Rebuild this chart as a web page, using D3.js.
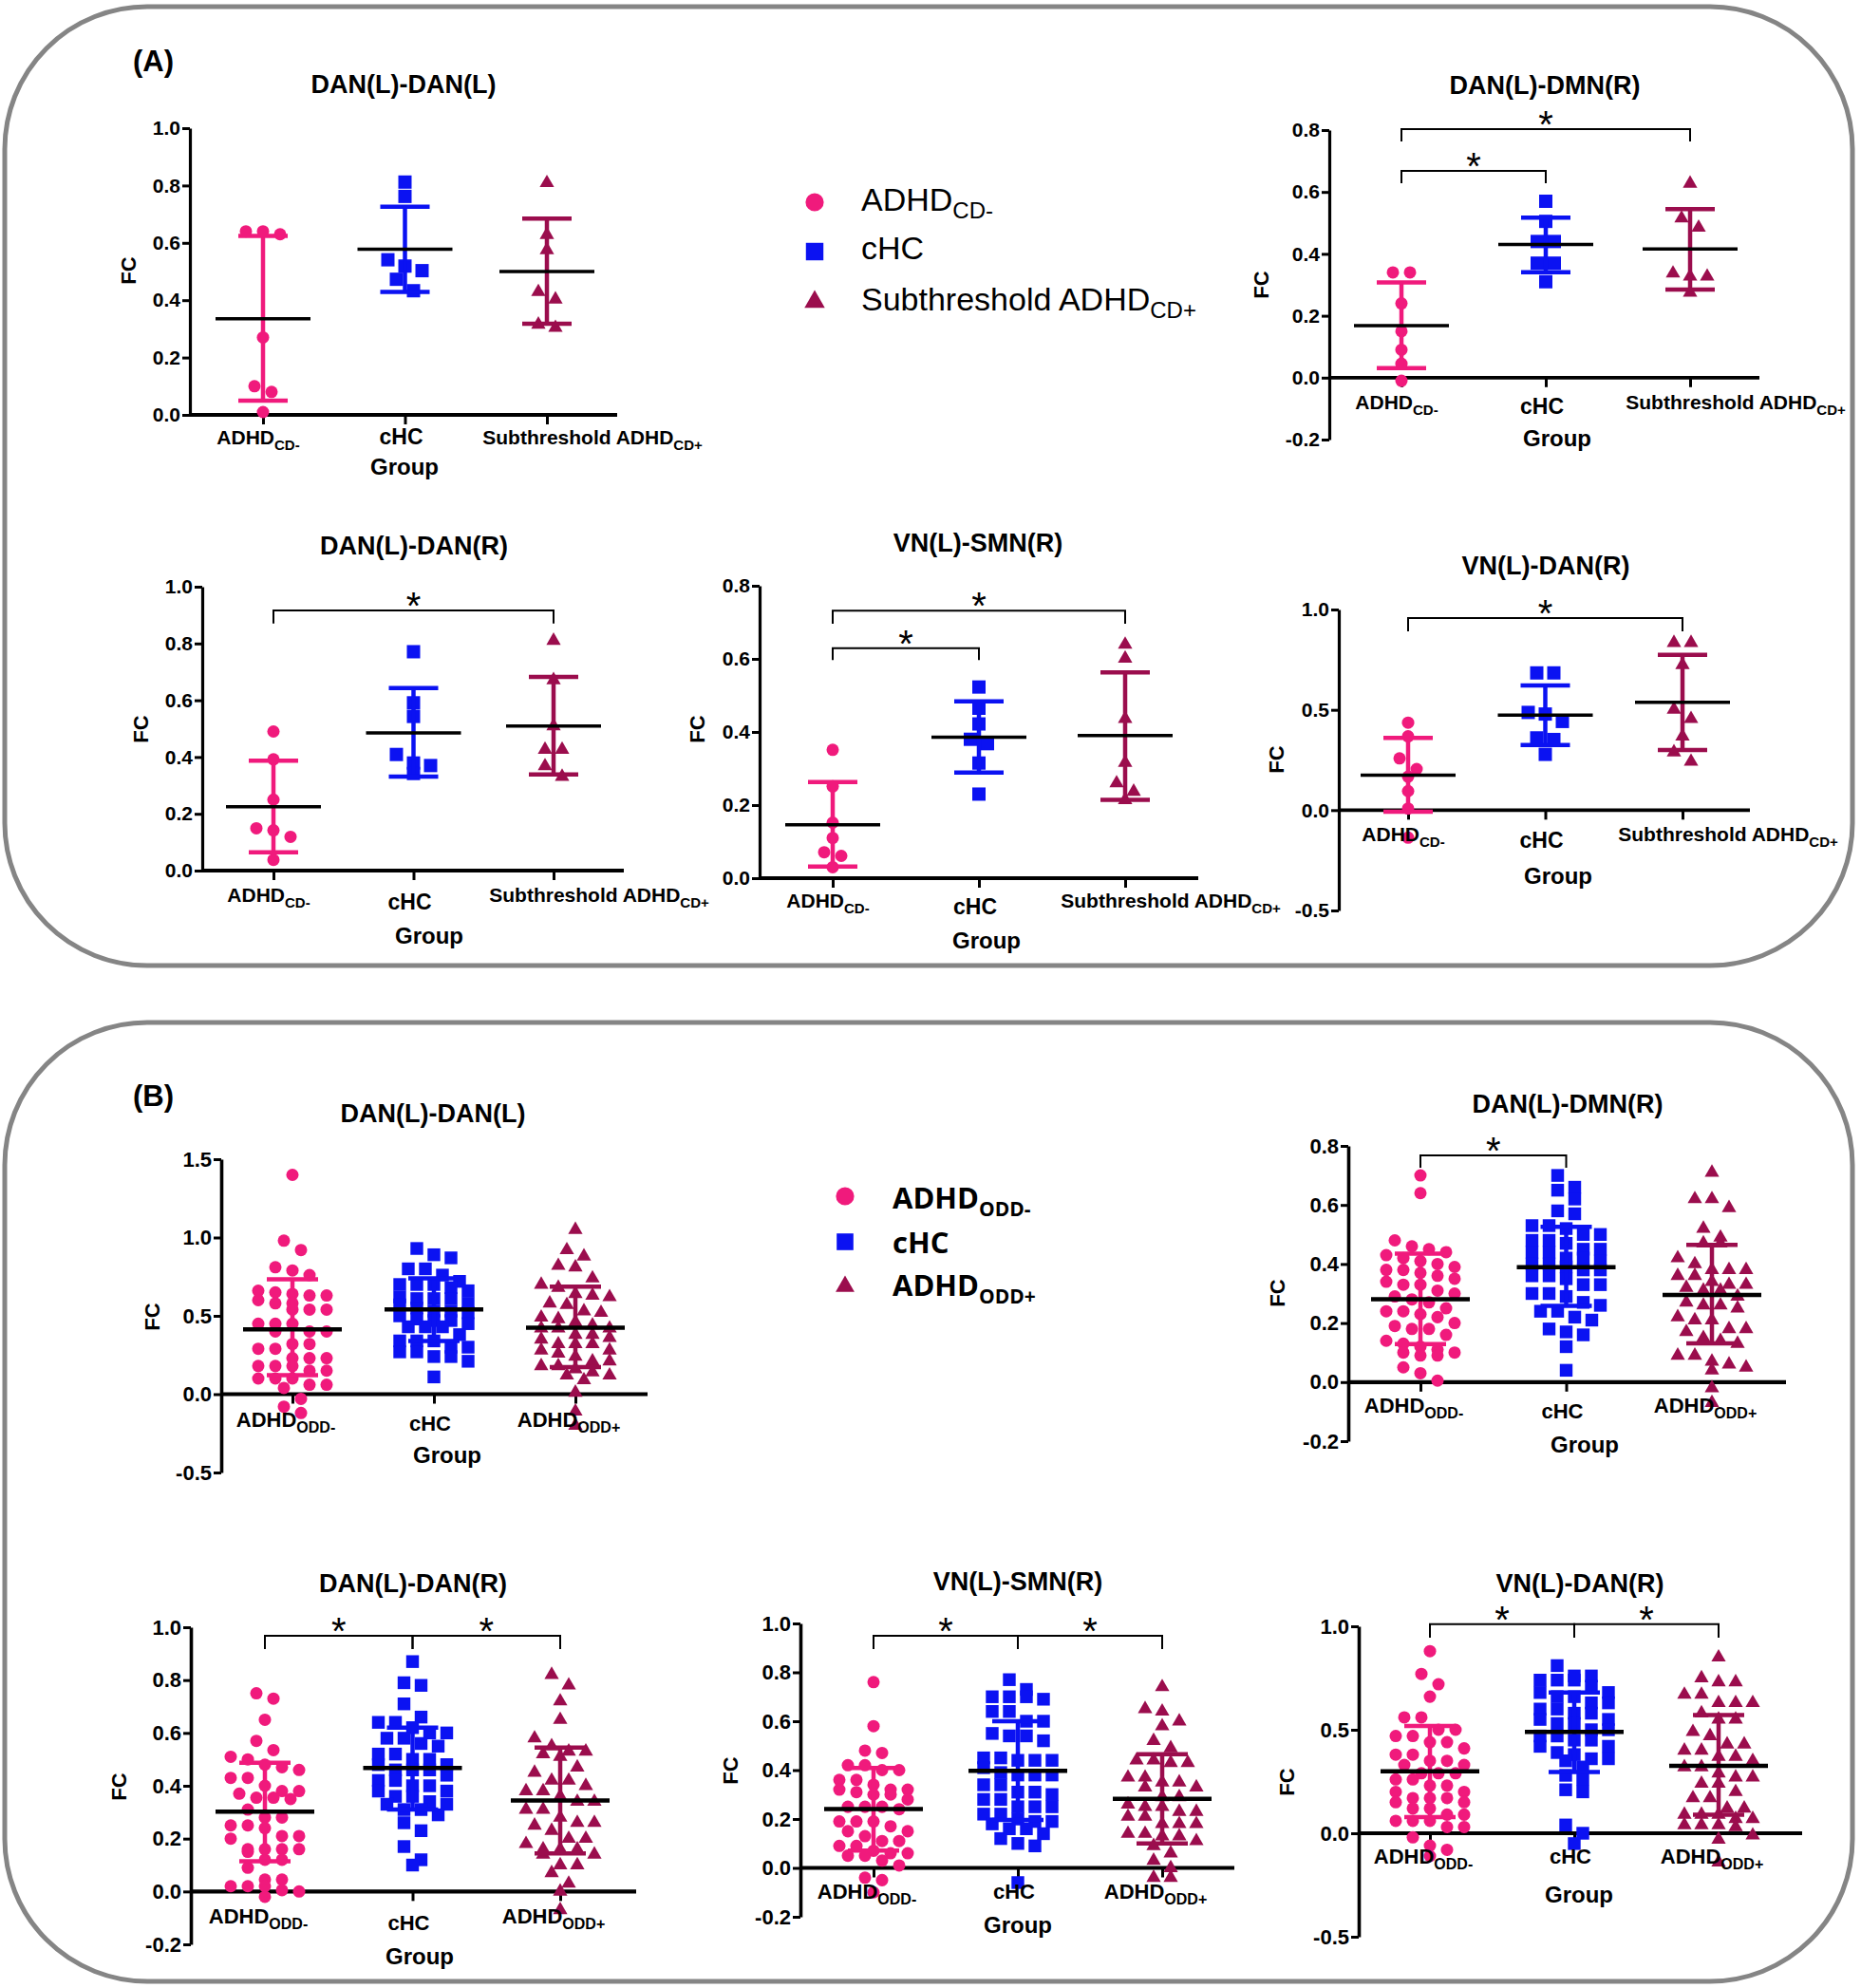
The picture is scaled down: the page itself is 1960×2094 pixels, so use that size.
<!DOCTYPE html>
<html>
<head>
<meta charset="utf-8">
<script src="https://cdn.jsdelivr.net/npm/d3@7"></script>
<style>
  body { margin: 0; background: #fff; }
</style>
</head>
<body>
<script>
// ---- groups / labels ----
const labelsA = [["ADHD", "CD-"], ["cHC", ""], ["Subthreshold ADHD", "CD+"]];
const labelsB = [["ADHD", "ODD-"], ["cHC", ""], ["ADHD", "ODD+"]];
const titles = ["DAN(L)-DAN(L)", "DAN(L)-DMN(R)", "DAN(L)-DAN(R)", "VN(L)-SMN(R)", "VN(L)-DAN(R)"];

// ---- panel A values (FC) ----
const a1Adhd = [0.64, 0.63, 0.64, 0.27, 0.10, 0.08, 0.01];
const a1Hc = [0.812, 0.762, 0.519, 0.541, 0.503, 0.473, 0.433];
const a1Sub = [0.809, 0.628, 0.575, 0.429, 0.403, 0.304, 0.315];
const a1Mean = [0.335, 0.578, 0.50], a1Up = [0.624, 0.726, 0.685], a1Lo = [0.05, 0.429, 0.318];

const a2Adhd = [0.34, 0.34, 0.24, 0.15, 0.09, 0.045, -0.01];
const a2Hc = [0.57, 0.505, 0.44, 0.44, 0.37, 0.37, 0.31];
const a2Sub = [0.627, 0.515, 0.485, 0.327, 0.327, 0.337, 0.275];
const a2Mean = [0.168, 0.43, 0.416], a2Up = [0.308, 0.517, 0.545], a2Lo = [0.031, 0.341, 0.285];

const a3Adhd = [0.49, 0.392, 0.25, 0.142, 0.149, 0.119, 0.038];
const a3Hc = [0.771, 0.591, 0.543, 0.409, 0.379, 0.37, 0.342];
const a3Sub = [0.81, 0.671, 0.509, 0.426, 0.426, 0.368, 0.331];
const a3Mean = [0.225, 0.485, 0.509], a3Up = [0.387, 0.643, 0.682], a3Lo = [0.064, 0.331, 0.339];

const a4Adhd = [0.351, 0.251, 0.152, 0.11, 0.071, 0.061, 0.03];
const a4Hc = [0.523, 0.465, 0.422, 0.38, 0.368, 0.315, 0.23];
const a4Sub = [0.639, 0.601, 0.436, 0.316, 0.26, 0.237, 0.214];
const a4Mean = [0.146, 0.386, 0.39], a4Up = [0.263, 0.484, 0.563], a4Lo = [0.032, 0.289, 0.214];

const a5Adhd = [0.436, 0.368, 0.258, 0.205, 0.167, 0.095, 0.008, -0.137];
const a5Hc = [0.684, 0.684, 0.442, 0.479, 0.487, 0.36, 0.352, 0.278];
const a5Sub = [0.834, 0.834, 0.724, 0.502, 0.455, 0.368, 0.289, 0.242];
const a5Mean = [0.174, 0.474, 0.537], a5Up = [0.36, 0.621, 0.774], a5Lo = [-0.008, 0.325, 0.30];

// ---- panel B values (FC) ----
const b1Adhd = [1.40, 0.98, 0.92, 0.81, 0.79, 0.76, 0.66, 0.64, 0.63, 0.65, 0.63, 0.58, 0.60, 0.58, 0.54, 0.54, 0.54,
  0.45, 0.45, 0.45, 0.40, 0.40, 0.40, 0.32, 0.32, 0.29, 0.29, 0.23, 0.23, 0.23, 0.18, 0.18, 0.18, 0.15, 0.15,
  0.10, 0.10, 0.10, 0.06, 0.06, 0.04, -0.03, -0.08, -0.12];
const b1Hc = [0.93, 0.89, 0.87, 0.80, 0.80, 0.76, 0.72, 0.70, 0.70, 0.70, 0.68, 0.66, 0.62, 0.61, 0.61, 0.61, 0.58,
  0.57, 0.55, 0.53, 0.53, 0.52, 0.50, 0.48, 0.47, 0.47, 0.45, 0.43, 0.43, 0.43, 0.38, 0.34, 0.34, 0.34, 0.30,
  0.30, 0.27, 0.27, 0.24, 0.24, 0.21, 0.11];
const b1Sub = [1.05, 0.92, 0.88, 0.82, 0.81, 0.74, 0.70, 0.68, 0.64, 0.63, 0.62, 0.58, 0.57, 0.53, 0.52, 0.49, 0.48,
  0.46, 0.44, 0.42, 0.42, 0.42, 0.38, 0.38, 0.36, 0.35, 0.32, 0.32, 0.32, 0.28, 0.28, 0.26, 0.24, 0.21, 0.21,
  0.18, 0.18, 0.16, 0.14, 0.12, 0.12, 0.09, 0.01, -0.11, -0.20];
const b1Mean = [0.414, 0.541, 0.424], b1Up = [0.733, 0.74, 0.687], b1Lo = [0.121, 0.34, 0.172];

const b2Adhd = [0.70, 0.64, 0.48, 0.46, 0.45, 0.44, 0.43, 0.42, 0.41, 0.40, 0.39, 0.38, 0.38, 0.37, 0.36, 0.35, 0.34,
  0.33, 0.33, 0.31, 0.30, 0.29, 0.28, 0.27, 0.25, 0.24, 0.24, 0.23, 0.22, 0.20, 0.19, 0.18, 0.18, 0.16, 0.14,
  0.13, 0.12, 0.11, 0.10, 0.10, 0.09, 0.09, 0.05, 0.03, 0.005];
const b2Hc = [0.70, 0.66, 0.65, 0.62, 0.58, 0.57, 0.53, 0.53, 0.52, 0.50, 0.50, 0.48, 0.48, 0.47, 0.45, 0.45, 0.44,
  0.44, 0.42, 0.42, 0.41, 0.40, 0.40, 0.39, 0.38, 0.38, 0.36, 0.36, 0.35, 0.33, 0.33, 0.30, 0.30, 0.29, 0.27,
  0.26, 0.24, 0.24, 0.22, 0.21, 0.18, 0.17, 0.16, 0.12, 0.04];
const b2Sub = [0.71, 0.62, 0.62, 0.59, 0.52, 0.49, 0.47, 0.47, 0.42, 0.40, 0.38, 0.38, 0.38, 0.36, 0.36, 0.34, 0.33,
  0.33, 0.32, 0.31, 0.31, 0.29, 0.27, 0.26, 0.26, 0.25, 0.22, 0.21, 0.21, 0.18, 0.18, 0.17, 0.15, 0.14, 0.13,
  0.09, 0.09, 0.07, 0.06, 0.05, 0.04, -0.02, -0.07];
const b2Mean = [0.281, 0.389, 0.295], b2Up = [0.435, 0.526, 0.465], b2Lo = [0.129, 0.258, 0.131];

const b3Adhd = [0.75, 0.73, 0.65, 0.57, 0.535, 0.51, 0.50, 0.48, 0.47, 0.46, 0.43, 0.43, 0.40, 0.38, 0.38, 0.37,
  0.355, 0.355, 0.35, 0.31, 0.28, 0.28, 0.25, 0.25, 0.24, 0.21, 0.21, 0.20, 0.16, 0.16, 0.16, 0.16, 0.15, 0.12,
  0.12, 0.09, 0.045, 0.045, 0.02, 0.02, 0.02, 0.005, 0.0, -0.02];
const b3Hc = [0.87, 0.79, 0.78, 0.71, 0.66, 0.64, 0.64, 0.62, 0.60, 0.60, 0.58, 0.58, 0.56, 0.55, 0.52, 0.52, 0.50,
  0.50, 0.48, 0.48, 0.46, 0.46, 0.46, 0.44, 0.42, 0.42, 0.40, 0.40, 0.38, 0.38, 0.36, 0.36, 0.34, 0.33, 0.33,
  0.31, 0.31, 0.29, 0.26, 0.23, 0.17, 0.12, 0.10];
const b3Sub = [0.82, 0.78, 0.72, 0.65, 0.58, 0.55, 0.53, 0.53, 0.52, 0.51, 0.47, 0.45, 0.42, 0.42, 0.40, 0.38, 0.38,
  0.36, 0.34, 0.34, 0.31, 0.31, 0.28, 0.26, 0.26, 0.25, 0.23, 0.20, 0.20, 0.18, 0.16, 0.16, 0.16, 0.14, 0.14,
  0.10, 0.10, 0.07, 0.03, 0.0, -0.07];
const b3Mean = [0.302, 0.467, 0.344], b3Up = [0.487, 0.62, 0.545], b3Lo = [0.114, 0.31, 0.144];

const b4Adhd = [0.76, 0.58, 0.48, 0.47, 0.42, 0.42, 0.40, 0.40, 0.36, 0.36, 0.34, 0.32, 0.32, 0.32, 0.31, 0.30, 0.30,
  0.28, 0.25, 0.25, 0.25, 0.24, 0.19, 0.19, 0.19, 0.17, 0.15, 0.15, 0.13, 0.11, 0.11, 0.09, 0.09, 0.07, 0.06,
  0.06, 0.05, 0.05, 0.03, 0.01, -0.04, -0.05, -0.10];
const b4Hc = [0.77, 0.73, 0.70, 0.70, 0.70, 0.69, 0.64, 0.64, 0.60, 0.60, 0.55, 0.54, 0.54, 0.52, 0.45, 0.45, 0.44,
  0.44, 0.44, 0.41, 0.39, 0.38, 0.38, 0.38, 0.34, 0.34, 0.31, 0.31, 0.30, 0.28, 0.28, 0.25, 0.25, 0.25, 0.22,
  0.22, 0.20, 0.19, 0.19, 0.18, 0.16, 0.16, 0.14, 0.12, 0.10, 0.09, -0.06];
const b4Sub = [0.74, 0.65, 0.64, 0.60, 0.58, 0.52, 0.49, 0.44, 0.44, 0.43, 0.43, 0.37, 0.37, 0.35, 0.35, 0.33, 0.33,
  0.29, 0.29, 0.26, 0.25, 0.25, 0.23, 0.23, 0.21, 0.21, 0.18, 0.18, 0.18, 0.14, 0.14, 0.13, 0.13, 0.11, 0.09,
  0.06, 0.03, 0.0, -0.04, -0.04];
const b4Mean = [0.241, 0.397, 0.283], b4Up = [0.409, 0.60, 0.465], b4Lo = [0.071, 0.196, 0.10];

const b5Adhd = [0.88, 0.77, 0.72, 0.66, 0.56, 0.56, 0.50, 0.50, 0.47, 0.47, 0.44, 0.44, 0.41, 0.38, 0.38, 0.35, 0.35,
  0.33, 0.33, 0.29, 0.29, 0.29, 0.26, 0.26, 0.23, 0.23, 0.20, 0.20, 0.17, 0.17, 0.17, 0.15, 0.15, 0.12, 0.12,
  0.09, 0.09, 0.06, 0.06, 0.06, 0.03, 0.03, -0.02, -0.06, -0.08, -0.11];
const b5Hc = [0.81, 0.76, 0.76, 0.74, 0.74, 0.74, 0.71, 0.68, 0.68, 0.66, 0.66, 0.63, 0.63, 0.60, 0.60, 0.58, 0.58,
  0.55, 0.55, 0.53, 0.53, 0.50, 0.50, 0.47, 0.47, 0.45, 0.45, 0.42, 0.42, 0.39, 0.38, 0.36, 0.36, 0.35, 0.32,
  0.28, 0.26, 0.21, 0.20, 0.04, 0.0, -0.05];
const b5Sub = [0.85, 0.75, 0.73, 0.73, 0.67, 0.67, 0.63, 0.63, 0.63, 0.58, 0.55, 0.55, 0.49, 0.47, 0.43, 0.43, 0.40,
  0.40, 0.37, 0.37, 0.35, 0.32, 0.32, 0.29, 0.27, 0.27, 0.24, 0.24, 0.20, 0.17, 0.17, 0.12, 0.12, 0.09, 0.09,
  0.09, 0.07, 0.07, 0.04, 0.04, 0.04, 0.03, -0.01, -0.03, -0.14];
const b5Mean = [0.299, 0.49, 0.326], b5Up = [0.518, 0.68, 0.571], b5Lo = [0.078, 0.296, 0.089];

// ---- styling ----
const FONT = "'Liberation Sans', Arial, sans-serif";
const colors = ["#f01a7c", "#0b12f2", "#9b0d4d"];
const shapes = [d3.symbolCircle, d3.symbolSquare, d3.symbolTriangle];
const styleA = { tick: 21, lab: [21, 23, 21], sub: 15, subDy: 6, sizes: [133, 196, 100], rowH: 13, step: 18,
  meanW: 100, meanSW: 3.5, capW: 52, barSW: 4.5, axisSW: 3.2, labelDx: [-5, -4, 48], labels: labelsA };
const styleB = { tick: 22, lab: [22, 22, 22], sub: 16, subDy: 6, sizes: [133, 180, 100], rowH: 14, step: 18,
  meanW: 104, meanSW: 4.5, capW: 54, barSW: 4.5, axisSW: 3.6, labelDx: [-7, -4, -7], labels: labelsB };

const panels = [
  { s: styleA, title: [titles[0], 425, 98], x0: 200, x1: 650, yTop: 135, yBot: 437, domain: [0, 1],
    ticks: [0, 0.2, 0.4, 0.6, 0.8, 1.0], cats: [277, 576], labY: [468, 468, 468], group: [426, 500], fc: [135, 285],
    data: [a1Adhd, a1Hc, a1Sub], mean: a1Mean, up: a1Up, lo: a1Lo, brackets: [] },
  { s: styleA, title: [titles[1], 1627, 99], x0: 1400, x1: 1853, yTop: 137, yBot: 463, domain: [-0.2, 0.8],
    ticks: [-0.2, 0, 0.2, 0.4, 0.6, 0.8], cats: [1476, 1780], labY: [431, 436, 431], group: [1640, 470], fc: [1328, 300],
    data: [a2Adhd, a2Hc, a2Sub], mean: a2Mean, up: a2Up, lo: a2Lo,
    brackets: [{ a: 0, b: 2, y: 0.803, leg: 0.763 }, { a: 0, b: 1, y: 0.668, leg: 0.628 }] },
  { s: styleA, title: [titles[2], 436, 584], x0: 213, x1: 657, yTop: 618, yBot: 917, domain: [0, 1],
    ticks: [0, 0.2, 0.4, 0.6, 0.8, 1.0], cats: [288, 583], labY: [950, 958, 950], group: [452, 994], fc: [148, 768],
    data: [a3Adhd, a3Hc, a3Sub], mean: a3Mean, up: a3Up, lo: a3Lo,
    brackets: [{ a: 0, b: 2, y: 0.916, leg: 0.87 }] },
  { s: styleA, title: [titles[3], 1030, 581], x0: 800, x1: 1262, yTop: 617, yBot: 925, domain: [0, 0.8],
    ticks: [0, 0.2, 0.4, 0.6, 0.8], cats: [877, 1185], labY: [956, 963, 956], group: [1039, 999], fc: [734, 768],
    data: [a4Adhd, a4Hc, a4Sub], mean: a4Mean, up: a4Up, lo: a4Lo,
    brackets: [{ a: 0, b: 2, y: 0.732, leg: 0.696 }, { a: 0, b: 1, y: 0.629, leg: 0.597 }] },
  { s: styleA, title: [titles[4], 1628, 605], x0: 1410, x1: 1843, yTop: 642, yBot: 959, domain: [-0.5, 1],
    ticks: [-0.5, 0, 0.5, 1.0], cats: [1483, 1772], labY: [886, 893, 886], group: [1641, 931], fc: [1344, 800],
    data: [a5Adhd, a5Hc, a5Sub], mean: a5Mean, up: a5Up, lo: a5Lo,
    brackets: [{ a: 0, b: 2, y: 0.957, leg: 0.891 }] },
  { s: styleB, title: [titles[0], 456, 1182], x0: 233, x1: 682, yTop: 1221, yBot: 1551, domain: [-0.5, 1.5],
    ticks: [-0.5, 0, 0.5, 1.0, 1.5], cats: [308, 606], labY: [1503, 1507, 1503], group: [471, 1541], fc: [160, 1387],
    data: [b1Adhd, b1Hc, b1Sub], mean: b1Mean, up: b1Up, lo: b1Lo, brackets: [] },
  { s: styleB, title: [titles[1], 1651, 1172], x0: 1420, x1: 1881, yTop: 1207, yBot: 1518, domain: [-0.2, 0.8],
    ticks: [-0.2, 0, 0.2, 0.4, 0.6, 0.8], cats: [1496, 1803], labY: [1488, 1494, 1488], group: [1669, 1530], fc: [1345, 1362],
    data: [b2Adhd, b2Hc, b2Sub], mean: b2Mean, up: b2Up, lo: b2Lo,
    brackets: [{ a: 0, b: 1, y: 0.768, leg: 0.726 }] },
  { s: styleB, title: [titles[2], 435, 1677], x0: 201, x1: 670, yTop: 1714, yBot: 2048, domain: [-0.2, 1],
    ticks: [-0.2, 0, 0.2, 0.4, 0.6, 0.8, 1.0], cats: [279, 590], labY: [2026, 2033, 2026], group: [442, 2069], fc: [125, 1882],
    data: [b3Adhd, b3Hc, b3Sub], mean: b3Mean, up: b3Up, lo: b3Lo,
    brackets: [{ a: 0, b: 1, y: 0.968, leg: 0.917 }, { a: 1, b: 2, y: 0.968, leg: 0.917 }] },
  { s: styleB, title: [titles[3], 1072, 1675], x0: 843, x1: 1300, yTop: 1710, yBot: 2019, domain: [-0.2, 1],
    ticks: [-0.2, 0, 0.2, 0.4, 0.6, 0.8, 1.0], cats: [920, 1224], labY: [2000, 2000, 2000], group: [1072, 2036], fc: [769, 1865],
    data: [b4Adhd, b4Hc, b4Sub], mean: b4Mean, up: b4Up, lo: b4Lo,
    brackets: [{ a: 0, b: 1, y: 0.95, leg: 0.895 }, { a: 1, b: 2, y: 0.95, leg: 0.895 }] },
  { s: styleB, title: [titles[4], 1664, 1677], x0: 1431, x1: 1898, yTop: 1713, yBot: 2040, domain: [-0.5, 1],
    ticks: [-0.5, 0, 0.5, 1.0], cats: [1506, 1810], labY: [1963, 1963, 1963], group: [1663, 2004], fc: [1355, 1877],
    data: [b5Adhd, b5Hc, b5Sub], mean: b5Mean, up: b5Up, lo: b5Lo,
    brackets: [{ a: 0, b: 1, y: 1.01, leg: 0.945 }, { a: 1, b: 2, y: 1.01, leg: 0.945 }] }
];

const svg = d3.select("body").append("svg")
  .attr("width", 1960).attr("height", 2094)
  .style("font-family", FONT);

// rounded frames round (A) and (B)
[[5, 7, 1946, 1010], [5, 1077, 1946, 1010]].forEach(r => {
  svg.append("rect").attr("x", r[0]).attr("y", r[1]).attr("width", r[2]).attr("height", r[3])
    .attr("rx", 150).attr("ry", 150).attr("fill", "none").attr("stroke", "#858585").attr("stroke-width", 5);
});
svg.append("text").attr("x", 140).attr("y", 75).attr("font-size", 31).attr("font-weight", "bold").text("(A)");
svg.append("text").attr("x", 140).attr("y", 1165).attr("font-size", 31).attr("font-weight", "bold").text("(B)");

// simple column scatter: points close in y share a row and are spread symmetrically
function swarm(vals, y, rowH, step) {
  const sorted = vals.slice().sort((a, b) => b - a);
  const rows = [];
  let cur = null;
  sorted.forEach(v => {
    if (cur && Math.abs(y(v) - y(cur[0])) < rowH && cur.length < 5) cur.push(v);
    else { cur = [v]; rows.push(cur); }
  });
  const out = [];
  rows.forEach(r => r.forEach((v, k) => out.push({ v: v, dx: (k - (r.length - 1) / 2) * step })));
  return out;
}

function drawPanel(p) {
  const st = p.s;
  const g = svg.append("g");
  const y = d3.scaleLinear().domain(p.domain).range([p.yBot, p.yTop]);
  const x = d3.scalePoint().domain([0, 1, 2]).range(p.cats);

  g.append("text").attr("x", p.title[1]).attr("y", p.title[2]).attr("text-anchor", "middle")
    .attr("font-size", 27).attr("font-weight", "bold").text(p.title[0]);

  // y axis
  const ya = g.append("g").attr("transform", `translate(${p.x0},0)`)
    .call(d3.axisLeft(y).tickValues(p.ticks).tickFormat(d => d.toFixed(1)).tickSize(8).tickSizeOuter(0));
  ya.attr("font-family", FONT).attr("font-size", st.tick).attr("font-weight", "bold");
  ya.select(".domain").attr("stroke-width", st.axisSW);
  ya.selectAll(".tick line").attr("stroke-width", 3);
  ya.selectAll(".tick text").attr("x", -10).attr("fill", "#000");

  // x axis at zero
  g.append("line").attr("x1", p.x0).attr("x2", p.x1).attr("y1", y(0)).attr("y2", y(0))
    .attr("stroke", "#000").attr("stroke-width", st.axisSW + 0.6);
  const xa = g.append("g").attr("transform", `translate(0,${y(0)})`)
    .call(d3.axisBottom(x).tickSize(10).tickFormat(""));
  xa.select(".domain").remove();
  xa.selectAll(".tick line").attr("stroke-width", 3);

  // points
  p.data.forEach((vals, i) => {
    const sym = d3.symbol().type(shapes[i]).size(st.sizes[i]);
    g.append("g").selectAll("path").data(swarm(vals, y, st.rowH, st.step)).join("path")
      .attr("d", sym)
      .attr("transform", d => `translate(${x(i) + d.dx},${y(d.v)})`)
      .attr("fill", colors[i]);
  });

  // error bars and means
  [0, 1, 2].forEach(i => {
    const cx = x(i), c = colors[i];
    g.append("line").attr("x1", cx).attr("x2", cx).attr("y1", y(p.lo[i])).attr("y2", y(p.up[i]))
      .attr("stroke", c).attr("stroke-width", st.barSW);
    [p.lo[i], p.up[i]].forEach(v => {
      g.append("line").attr("x1", cx - st.capW / 2).attr("x2", cx + st.capW / 2).attr("y1", y(v)).attr("y2", y(v))
        .attr("stroke", c).attr("stroke-width", st.barSW);
    });
    g.append("line").attr("x1", cx - st.meanW / 2).attr("x2", cx + st.meanW / 2)
      .attr("y1", y(p.mean[i])).attr("y2", y(p.mean[i])).attr("stroke", "#000").attr("stroke-width", st.meanSW);
  });

  // significance brackets
  p.brackets.forEach(b => {
    g.append("path")
      .attr("d", `M${x(b.a)},${y(b.leg)}V${y(b.y)}H${x(b.b)}V${y(b.leg)}`)
      .attr("fill", "none").attr("stroke", "#000").attr("stroke-width", 2);
    g.append("text").attr("x", (x(b.a) + x(b.b)) / 2).attr("y", y(b.y) + 9).attr("text-anchor", "middle")
      .attr("font-size", 40).text("*");
  });

  // category labels
  st.labels.forEach((lab, i) => {
    const t = g.append("text").attr("x", x(i) + st.labelDx[i]).attr("y", p.labY[i])
      .attr("text-anchor", "middle").attr("font-size", st.lab[i]).attr("font-weight", "bold");
    t.append("tspan").text(lab[0]);
    if (lab[1]) t.append("tspan").attr("font-size", st.sub).attr("dy", st.subDy).text(lab[1]);
  });

  g.append("text").attr("x", p.group[0]).attr("y", p.group[1]).attr("text-anchor", "middle")
    .attr("font-size", 24).attr("font-weight", "bold").text("Group");
  g.append("text").attr("transform", `translate(${p.fc[0]},${p.fc[1]}) rotate(-90)`)
    .attr("text-anchor", "middle").attr("dominant-baseline", "central")
    .attr("font-size", 22).attr("font-weight", "bold").text("FC");
}

panels.forEach(drawPanel);

// legends
function legend(lx, ly, tx, rows, fs, sub, weight, family, sizes) {
  rows.forEach((r, i) => {
    svg.append("path").attr("d", d3.symbol().type(shapes[i]).size(sizes[i])())
      .attr("transform", `translate(${lx},${ly[i][0]})`).attr("fill", colors[i]);
    const t = svg.append("text").attr("x", tx).attr("y", ly[i][1]).attr("font-size", fs)
      .attr("font-weight", weight).attr("font-family", family);
    t.append("tspan").text(r[0]);
    if (r[1]) t.append("tspan").attr("font-size", sub).attr("dy", 8).text(r[1]);
  });
}
legend(858, [[213, 222], [265, 273], [318, 327]], 907,
  [["ADHD", "CD-"], ["cHC", ""], ["Subthreshold ADHD", "CD+"]], 34, 24, "normal",
  "'Liberation Sans Narrow', 'Liberation Sans', sans-serif", [290, 340, 200]);
legend(890, [[1260, 1273], [1308, 1320], [1355, 1365]], 940,
  [["ADHD", "ODD-"], ["cHC", ""], ["ADHD", "ODD+"]], 31, 21, "bold",
  "'Open Sans', sans-serif", [290, 310, 170]);
</script>
</body>
</html>
